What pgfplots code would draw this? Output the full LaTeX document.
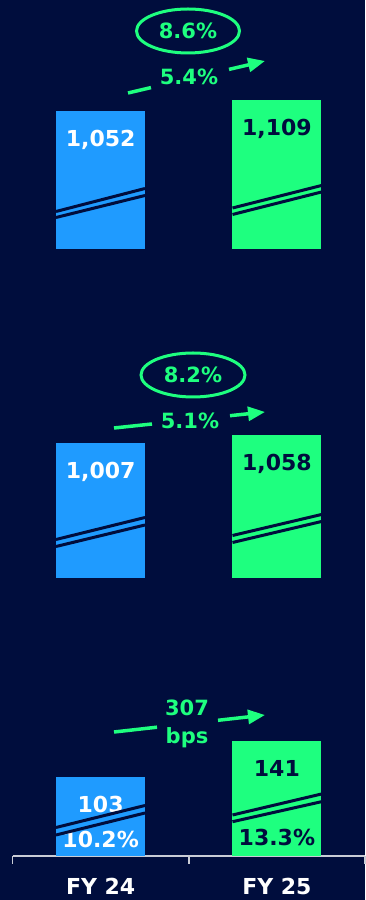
\documentclass[border=0pt]{standalone}
\usepackage{fontspec}
\setmainfont{DejaVu Sans}
\usepackage{pgfplots}
\pgfplotsset{compat=1.18}
\usetikzlibrary{arrows.meta}
\definecolor{bg}{HTML}{000D3D}
\definecolor{fyblue}{HTML}{1F9BFF}
\definecolor{fygreen}{HTML}{1EFF7F}
\definecolor{axgrey}{HTML}{C9CCD6}
\newcommand{\lab}{\fontsize{22}{26}\selectfont\bfseries}
\newcommand{\ann}{\fontsize{21}{28}\selectfont\bfseries}
\pgfplotsset{
  panel/.style={
    scale only axis, width=352.5pt, xmin=-0.5, xmax=1.5,
    ybar, bar width=89pt,
    /pgf/number format/1000 sep={,},
    /pgf/number format/assume math mode=true,
    nodes near coords,
    every node near coord/.append style={anchor=base, yshift=-35.5pt, font=\lab},
  },
  bluebar/.style={fill=fyblue, draw=none, bar shift=0pt,
    every node near coord/.append style={text=white}},
  greenbar/.style={fill=fygreen, draw=none, bar shift=0pt,
    every node near coord/.append style={text=bg}},
}
\begin{document}
\begin{tikzpicture}[x=1pt,y=1pt]
\fill[bg] (0,0) rectangle (365,900);

% ---- top panel
\begin{axis}[panel, hide axis, at={(12.5pt,651pt)}, anchor=south west,
  height=200pt, ymin=337, ymax=1373.2]
\addplot[bluebar] coordinates {(0,1052)};
\addplot[greenbar] coordinates {(1,1109)};
\end{axis}

% ---- middle panel
\begin{axis}[panel, hide axis, at={(12.5pt,322pt)}, anchor=south west,
  height=200pt, ymin=146, ymax=1421.6]
\addplot[bluebar] coordinates {(0,1007)};
\addplot[greenbar] coordinates {(1,1058)};
\end{axis}

% ---- bottom panel
\begin{axis}[panel, at={(12.5pt,44pt)}, anchor=south west,
  height=150pt, ymin=19.6, ymax=178.0,
  axis y line=none, axis x line*=bottom,
  x axis line style={-, draw=axgrey, line width=2pt},
  xtick={-0.5,0.5,1.5}, xticklabels={},
  xtick style={draw=axgrey, line width=1.6pt},
  xtick align=outside, major tick length=8pt,
  extra x ticks={0,1}, extra x tick labels={FY 24,FY 25},
  extra x tick style={major tick length=0pt, xtick style={draw=none}},
  xticklabel style={font=\lab, text=white, anchor=base, yshift=-38.5pt},
]
\addplot[bluebar] coordinates {(0,103)};
\addplot[greenbar] coordinates {(1,141)};
\node[font=\lab, text=white, anchor=base] at (axis cs:0,19.6) [yshift=9pt] {10.2\%};
\node[font=\lab, text=bg, anchor=base] at (axis cs:1,19.6) [yshift=10pt] {13.3\%};
\end{axis}

% ---- break marks
\begin{scope}[bg, line width=3pt]
\draw (56,688.5)--(145,711.5);  \draw (56,682.5)--(145,704.5);
\draw (232.5,692)--(321.5,714.5); \draw (232.5,685.5)--(321.5,708);
\draw (56,360.5)--(145,382.5);  \draw (56,353.5)--(145,375);
\draw (232.5,364.5)--(321.5,385.5); \draw (232.5,357.5)--(321.5,378.5);
\draw (56,72.5)--(145,94.5);    \draw (56,65)--(145,87);
\draw (232.5,85)--(321.5,106);  \draw (232.5,78.3)--(321.5,98.3);
\end{scope}

% ---- growth annotations
\begin{scope}[fygreen, line width=3.5pt]
\draw (128,807)--(151,812.4);
\draw[-{Triangle[length=17pt,width=14pt]}] (229,830.6)--(265,839);
\draw (114,472)--(152,476);
\draw[-{Triangle[length=17pt,width=14pt]}] (230,484.3)--(265,488);
\draw (114,168)--(157,172.8);
\draw[-{Triangle[length=17pt,width=14pt]}] (218,179.7)--(265,185);
\end{scope}
\draw[fygreen, line width=3pt] (188,869) ellipse [x radius=51.5, y radius=22];
\draw[fygreen, line width=3pt] (193,525) ellipse [x radius=52, y radius=22];
\node[font=\ann, text=fygreen] at (188,869) {8.6\%};
\node[font=\ann, text=fygreen] at (189,823) {5.4\%};
\node[font=\ann, text=fygreen] at (193,525) {8.2\%};
\node[font=\ann, text=fygreen] at (190,479) {5.1\%};
\node[font=\ann, text=fygreen, anchor=base] at (187,184) {307};
\node[font=\ann, text=fygreen, anchor=base] at (187,156) {bps};

\pgfresetboundingbox
\path (0,0) rectangle (365,900);
\end{tikzpicture}
\end{document}
